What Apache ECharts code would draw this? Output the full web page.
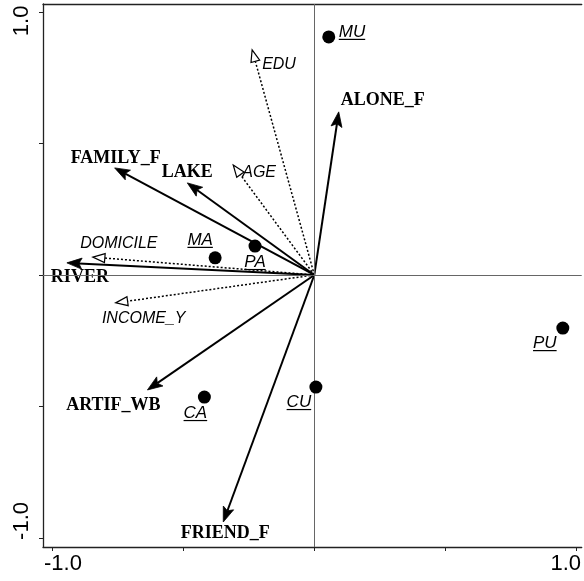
<!DOCTYPE html>
<html>
<head>
<meta charset="utf-8">
<script src="https://cdn.jsdelivr.net/npm/echarts@6/dist/echarts.min.js"></script>
<style>
  html, body { margin: 0; padding: 0; background: #fff; }
  #chart { width: 584px; height: 581px; }
</style>
</head>
<body>
<div id="chart"></div>
<script>
// environmental variables (solid arrows)
const envNames = ["ALONE_F", "FAMILY_F", "LAKE", "RIVER", "ARTIF_WB", "FRIEND_F"];
const envX = [0.093, -0.761, -0.484, -0.943, -0.636, -0.347];
const envY = [0.620, 0.407, 0.350, 0.046, -0.437, -0.939];

// supplementary variables (dotted arrows)
const suppNames = ["EDU", "AGE", "DOMICILE", "INCOME_Y"];
const suppX = [-0.237, -0.309, -0.844, -0.757];
const suppY = [0.856, 0.418, 0.068, -0.106];

// sites / samples
const siteNames = ["MU", "MA", "PA", "CA", "CU", "PU"];
const siteX = [0.055, -0.378, -0.226, -0.419, 0.006, 0.947];
const siteY = [0.905, 0.065, 0.110, -0.464, -0.426, -0.202];

// axis ticks and labels
const tickValues = [-1, -0.5, 0, 0.5, 1];
const tickLabels = ["-1.0", "1.0"];

// label placement: [dx, dy, align] in pixels from the point
const labelPlace = {
  ALONE_F: [2, -12, "left"],
  FAMILY_F: [1, -10, "center"],
  LAKE: [0, -11, "center"],
  RIVER: [13, 14, "center"],
  ARTIF_WB: [-34, 15, "center"],
  FRIEND_F: [2, 11, "center"],
  EDU: [10, 15, "left"],
  AGE: [9, 8, "left"],
  DOMICILE: [26, -14, "center"],
  INCOME_Y: [28, 16, "center"],
  MU: [10, -5, "left"],
  MA: [-15, -18, "center"],
  PA: [0, 16, "center"],
  CA: [-9, 16, "center"],
  CU: [-17, 15, "center"],
  PU: [-18, 15, "center"]
};

const boldFont = "bold 18px 'Liberation Serif', 'Times New Roman', serif";
const italicFont = "italic 16px 'Liberation Sans', Arial, sans-serif";
const siteFont = "italic 17px 'Liberation Sans', Arial, sans-serif";

const measureCtx = document.createElement("canvas").getContext("2d");
function textWidth(t, font) {
  measureCtx.font = font;
  return measureCtx.measureText(t).width;
}

function zip(names, xs, ys) {
  return names.map((n, i) => [xs[i], ys[i], i]);
}

function renderEnv(params, api) {
  const i = params.dataIndex;
  const o = api.coord([0, 0]);
  const p = api.coord([api.value(0), api.value(1)]);
  const dx = p[0] - o[0], dy = p[1] - o[1];
  const len = Math.sqrt(dx * dx + dy * dy);
  const ux = dx / len, uy = dy / len;
  const nx = -uy, ny = ux;
  const L = 15, W = 5.5;
  const bx = p[0] - ux * L, by = p[1] - uy * L;
  const notch = [p[0] - ux * L * 0.8, p[1] - uy * L * 0.8];
  const name = envNames[i];
  const pl = labelPlace[name];
  return {
    type: "group",
    children: [
      {
        type: "line",
        shape: { x1: o[0], y1: o[1], x2: notch[0], y2: notch[1] },
        style: { stroke: "#000", lineWidth: 2 }
      },
      {
        type: "polygon",
        shape: { points: [p, [bx + nx * W, by + ny * W], notch, [bx - nx * W, by - ny * W]] },
        style: { fill: "#000", stroke: "#000", lineWidth: 0.8 }
      },
      {
        type: "text",
        x: p[0] + pl[0],
        y: p[1] + pl[1],
        style: { text: name, font: boldFont, fill: "#000", align: pl[2], verticalAlign: "middle" }
      }
    ]
  };
}

function renderSupp(params, api) {
  const i = params.dataIndex;
  const o = api.coord([0, 0]);
  const p = api.coord([api.value(0), api.value(1)]);
  const dx = p[0] - o[0], dy = p[1] - o[1];
  const len = Math.sqrt(dx * dx + dy * dy);
  const ux = dx / len, uy = dy / len;
  const nx = -uy, ny = ux;
  const L = 12, W = 4.5;
  const bx = p[0] - ux * L, by = p[1] - uy * L;
  const name = suppNames[i];
  const pl = labelPlace[name];
  return {
    type: "group",
    children: [
      {
        type: "line",
        shape: { x1: o[0], y1: o[1], x2: bx, y2: by },
        style: { stroke: "#000", lineWidth: 1.5, lineDash: [2, 2] }
      },
      {
        type: "polygon",
        shape: { points: [p, [bx + nx * W, by + ny * W], [bx - nx * W, by - ny * W]] },
        style: { fill: "#fff", stroke: "#000", lineWidth: 1.2 }
      },
      {
        type: "text",
        x: p[0] + pl[0],
        y: p[1] + pl[1],
        style: { text: name, font: italicFont, fill: "#000", align: pl[2], verticalAlign: "middle" }
      }
    ]
  };
}

function renderSite(params, api) {
  const i = params.dataIndex;
  const p = api.coord([api.value(0), api.value(1)]);
  const name = siteNames[i];
  const pl = labelPlace[name];
  const w = textWidth(name, siteFont);
  const tx = p[0] + pl[0], ty = p[1] + pl[1];
  let x0 = tx;
  if (pl[2] === "center") x0 = tx - w / 2;
  if (pl[2] === "right") x0 = tx - w;
  return {
    type: "group",
    children: [
      {
        type: "circle",
        shape: { cx: p[0], cy: p[1], r: 6.5 },
        style: { fill: "#000" }
      },
      {
        type: "text",
        x: tx,
        y: ty,
        style: { text: name, font: siteFont, fill: "#000", align: pl[2], verticalAlign: "middle" }
      },
      {
        type: "line",
        shape: { x1: x0, y1: ty + 7.5, x2: x0 + w, y2: ty + 7.5 },
        style: { stroke: "#000", lineWidth: 1.2 }
      }
    ]
  };
}

const chart = echarts.init(document.getElementById("chart"), null, { renderer: "canvas" });
const axisColor = "#222";
const labelFmt = function (v) { return v > 0 ? tickLabels[1] : tickLabels[0]; };

const option = {
  animation: false,
  backgroundColor: "#fff",
  grid: { left: 43, right: 0, top: 4, bottom: 34 },
  xAxis: [
    {
      type: "value",
      min: -1.034,
      max: 1.019,
      axisLine: { show: true, onZero: false, lineStyle: { color: axisColor, width: 1.3 } },
      axisTick: { show: true, customValues: tickValues, length: 4, lineStyle: { color: axisColor } },
      axisLabel: {
        customValues: [-0.958, 0.958],
        formatter: labelFmt,
        fontSize: 22,
        fontFamily: "'Liberation Sans', Arial, sans-serif",
        color: "#000",
        margin: 6
      },
      splitLine: { show: false }
    },
    {
      type: "value",
      position: "top",
      min: -1.034,
      max: 1.019,
      axisLine: { show: true, onZero: false, lineStyle: { color: axisColor, width: 1.3 } },
      axisTick: { show: false },
      axisLabel: { show: false },
      splitLine: { show: false }
    }
  ],
  yAxis: {
    type: "value",
    min: -1.034,
    max: 1.030,
    axisLine: { show: true, onZero: false, lineStyle: { color: axisColor, width: 1.3 } },
    axisTick: { show: true, customValues: tickValues, length: 4, lineStyle: { color: axisColor } },
    axisLabel: {
      customValues: [0.966, -0.935],
      formatter: labelFmt,
      rotate: 90,
      fontSize: 22,
      fontFamily: "'Liberation Sans', Arial, sans-serif",
      color: "#000",
      margin: 10
    },
    splitLine: { show: false }
  },
  series: [
    {
      type: "scatter",
      data: [],
      silent: true,
      markLine: {
        silent: true,
        symbol: "none",
        label: { show: false },
        lineStyle: { color: "#666", width: 1, type: "solid" },
        data: [{ xAxis: 0 }, { yAxis: 0 }]
      }
    },
    {
      type: "custom",
      renderItem: renderSupp,
      data: zip(suppNames, suppX, suppY),
      encode: { x: 0, y: 1 },
      z: 3
    },
    {
      type: "custom",
      renderItem: renderEnv,
      data: zip(envNames, envX, envY),
      encode: { x: 0, y: 1 },
      z: 4
    },
    {
      type: "custom",
      renderItem: renderSite,
      data: zip(siteNames, siteX, siteY),
      encode: { x: 0, y: 1 },
      z: 5
    }
  ]
};

chart.setOption(option);
window.addEventListener("resize", function () {
  chart.resize();
});
</script>
</body>
</html>
